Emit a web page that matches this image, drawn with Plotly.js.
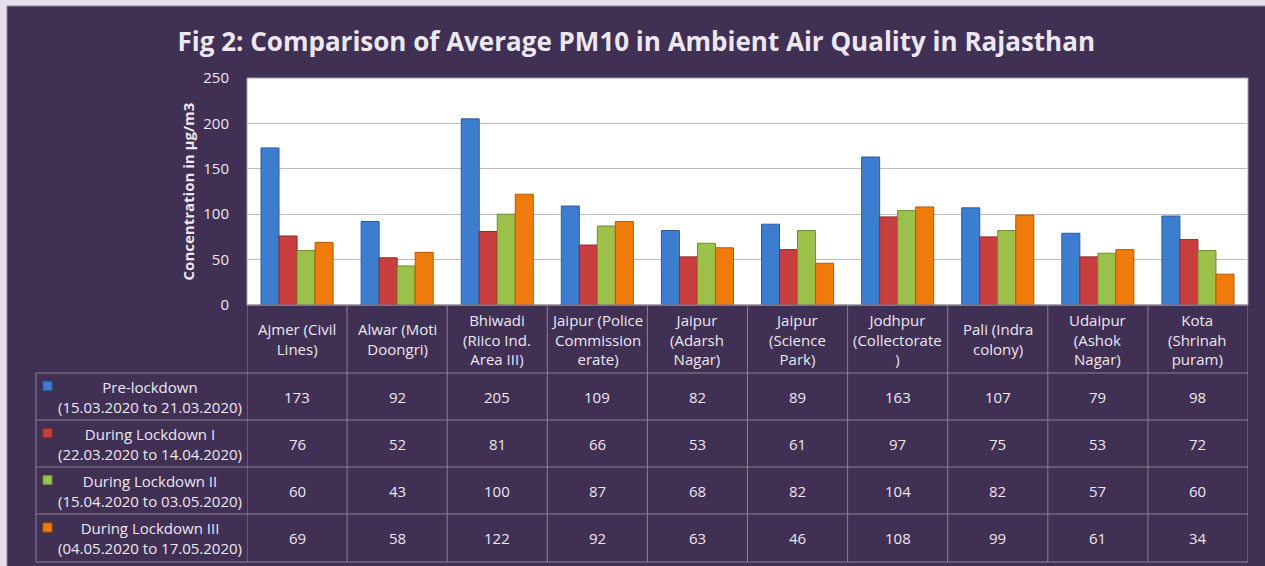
<!DOCTYPE html>
<html>
<head>
<meta charset="utf-8">
<script src="https://cdn.plot.ly/plotly-3.0.1.min.js"></script>
<style>
html,body{margin:0;padding:0;background:#e5e0ec;}
#chart{width:1265px;height:566px;}
</style>
</head>
<body>
<div id="chart"></div>
<script>
// ---- data ----
var stations = ["Ajmer (Civil Lines)", "Alwar (Moti Doongri)", "Bhiwadi (Riico Ind. Area III)",
  "Jaipur (Police Commissionerate)", "Jaipur (Adarsh Nagar)", "Jaipur (Science Park)",
  "Jodhpur (Collectorate)", "Pali (Indra colony)", "Udaipur (Ashok Nagar)", "Kota (Shrinah puram)"];
var stationLabels = ["Ajmer (Civil<br>Lines)", "Alwar (Moti<br>Doongri)", "Bhiwadi<br>(Riico Ind.<br>Area III)",
  "Jaipur (Police<br>Commission<br>erate)", "Jaipur<br>(Adarsh<br>Nagar)", "Jaipur<br>(Science<br>Park)",
  "Jodhpur<br>(Collectorate<br>)", "Pali (Indra<br>colony)", "Udaipur<br>(Ashok<br>Nagar)", "Kota<br>(Shrinah<br>puram)"];
var seriesNames = ["Pre-lockdown<br>(15.03.2020 to 21.03.2020)", "During Lockdown I<br>(22.03.2020 to 14.04.2020)",
  "During Lockdown II<br>(15.04.2020 to 03.05.2020)", "During Lockdown III<br>(04.05.2020 to 17.05.2020)"];
var preLockdown = [173, 92, 205, 109, 82, 89, 163, 107, 79, 98];
var lockdown1   = [76, 52, 81, 66, 53, 61, 97, 75, 53, 72];
var lockdown2   = [60, 43, 100, 87, 68, 82, 104, 82, 57, 60];
var lockdown3   = [69, 58, 122, 92, 63, 46, 108, 99, 61, 34];
var yTicks = [0, 50, 100, 150, 200, 250];

// ---- style ----
var colors = ["#3d7dd0", "#c83d3d", "#9cc14a", "#ef7b0c"];
var edges  = ["#2d5c9a", "#8f2a2a", "#6f8c34", "#b35a08"];
var textColor = "#ece7f2";
var dark = "#403053";
var gridCol = "#bdbdbd";
var tableLine = "#8a8194";
var FONT = "Open Sans";

var W = 1265, H = 566;
var L = 247, R = 17, T = 78, B = 261;
var PW = W - L - R, PH = H - T - B;
function px(x){ return (x - L) / PW; }          // pixel x -> paper x
function py(y){ return (H - B - y) / PH; }      // pixel y -> paper y

var allSeries = [preLockdown, lockdown1, lockdown2, lockdown3];
var traces = allSeries.map(function(vals, i){
  return {
    type: "bar", x: stations, y: vals, name: seriesNames[i],
    marker: {color: colors[i], line: {color: edges[i], width: 1}},
    hoverinfo: "skip"
  };
});

var shapes = [];
var annotations = [];
// outer dark panel
shapes.push({type:"rect", xref:"paper", yref:"paper", x0:px(7), x1:px(1270), y0:py(6), y1:py(570),
  fillcolor: dark, line:{color:"#8d8499", width:1}, layer:"below"});
// plot area white
shapes.push({type:"rect", xref:"paper", yref:"paper", x0:0, x1:1, y0:0, y1:1,
  fillcolor:"#ffffff", line:{color:"#a3a3a3", width:1}, layer:"below"});

// table geometry (pixel rows)
var rowEdges = [305, 373, 420, 467, 514, 562];
var n = stations.length;
function hline(x0, x1, y, xref){
  shapes.push({type:"line", xref:xref, yref:"paper", x0:x0, x1:x1, y0:py(y), y1:py(y), line:{color:tableLine, width:1}});
}
hline(px(248), 1, rowEdges[0], "paper");
for (var r = 1; r < rowEdges.length; r++) hline(px(36), 1, rowEdges[r], "paper");
for (var c = 0; c <= n; c++) {
  shapes.push({type:"line", xref:"x", yref:"paper", x0:c-0.5, x1:c-0.5, y0:py(rowEdges[0]), y1:py(rowEdges[5]),
    line:{color:tableLine, width:1}});
}
shapes.push({type:"line", xref:"paper", yref:"paper", x0:px(36), x1:px(36), y0:py(rowEdges[1]), y1:py(rowEdges[5]),
  line:{color:tableLine, width:1}});

// header labels
stations.forEach(function(s, i){
  annotations.push({xref:"x", yref:"paper", x:s, y:py((rowEdges[0]+rowEdges[1])/2),
    text: stationLabels[i], showarrow:false, xanchor:"center", yanchor:"middle", align:"center",
    font:{family:FONT, size:15, color:textColor}});
});
// data rows
allSeries.forEach(function(vals, r){
  var yc = (rowEdges[r+1] + rowEdges[r+2]) / 2;
  shapes.push({type:"rect", xref:"paper", yref:"paper", x0:px(43), x1:px(52), y0:py(yc-15), y1:py(yc-6),
    fillcolor: colors[r], line:{color:edges[r], width:1}});
  annotations.push({xref:"paper", yref:"paper", x:px(150), y:py(yc), text: seriesNames[r], showarrow:false,
    xanchor:"center", yanchor:"middle", align:"center", font:{family:FONT, size:15, color:textColor}});
  vals.forEach(function(v, i){
    annotations.push({xref:"x", yref:"paper", x:stations[i], y:py(yc), text:String(v), showarrow:false,
      xanchor:"center", yanchor:"middle", font:{family:FONT, size:15, color:textColor}});
  });
});

var layout = {
  width: W, height: H,
  margin: {l:L, r:R, t:T, b:B, pad:0},
  paper_bgcolor: "#e5e0ec",
  plot_bgcolor: "rgba(0,0,0,0)",
  showlegend: false,
  barmode: "group", bargap: 0.28, bargroupgap: 0,
  title: {text: "Fig 2: Comparison of Average PM10 in Ambient Air Quality in Rajasthan",
    x: 0.503, xanchor:"center", y: 1 - 42/H, yanchor:"middle",
    font: {family:FONT, size:26, color:textColor, weight:"bold"}},
  xaxis: {type:"category", showticklabels:false, showgrid:false, zeroline:false, ticks:"",
    range:[-0.5, n-0.5], fixedrange:true},
  yaxis: {range:[0,250], tickvals:yTicks, showgrid:true, gridcolor:gridCol, gridwidth:1, zeroline:false,
    ticks:"outside", ticklen:14, tickcolor:"rgba(0,0,0,0)",
    tickfont:{family:FONT, size:15, color:textColor},
    title:{text:"Concentration in µg/m3", standoff:5, font:{family:FONT, size:15, color:textColor, weight:"bold"}},
    fixedrange:true},
  shapes: shapes,
  annotations: annotations
};

Plotly.newPlot("chart", traces, layout, {staticPlot:true, displayModeBar:false});
</script>
</body>
</html>
